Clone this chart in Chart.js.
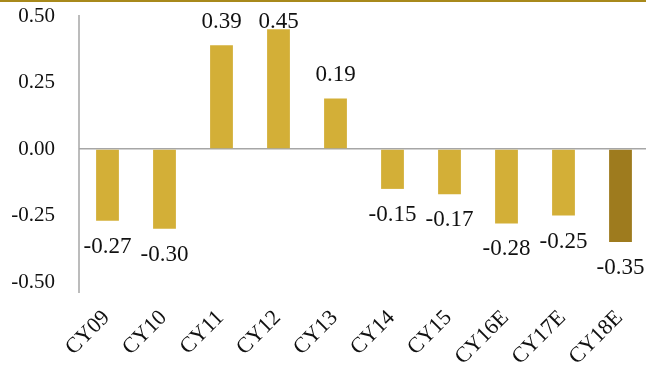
<!DOCTYPE html>
<html>
<head>
<meta charset="utf-8">
<script src="https://cdn.jsdelivr.net/npm/chart.js@4.4.1/dist/chart.umd.min.js"></script>
<style>
  html, body { margin: 0; padding: 0; background: #fff; overflow: hidden; }
  #wrap { position: relative; width: 649px; height: 367px; border-top: 2px solid #A8891B; }
</style>
</head>
<body>
<div id="wrap"><canvas id="c" width="649" height="367"></canvas></div>
<script>
// Calendar years (E = estimate)
const categories = ['CY09', 'CY10', 'CY11', 'CY12', 'CY13', 'CY14', 'CY15', 'CY16E', 'CY17E', 'CY18E'];
const values = [-0.27, -0.30, 0.39, 0.45, 0.19, -0.15, -0.17, -0.28, -0.25, -0.35];
const yTicks = [-0.50, -0.25, 0.00, 0.25, 0.50];

const GOLD = '#D3AF37';
const GOLD_DARK = '#9E7B1E';
const AXIS_GREY = '#A6A6A6';
const SERIF = "'Liberation Serif', 'DejaVu Serif', serif";

const barColors = categories.map((c, i) => i === categories.length - 1 ? GOLD_DARK : GOLD);

// value labels above positive bars and below negative ones
const valueLabels = {
  id: 'valueLabels',
  afterDatasetsDraw(chart) {
    const { ctx } = chart;
    const meta = chart.getDatasetMeta(0);
    const ys = chart.scales.y;
    ctx.save();
    ctx.font = '23px ' + SERIF;
    ctx.fillStyle = '#111';
    ctx.textAlign = 'center';
    ctx.textBaseline = 'alphabetic';
    meta.data.forEach((bar, i) => {
      const v = values[i];
      const yEnd = ys.getPixelForValue(v);
      const y = v >= 0 ? Math.max(yEnd - 17, chart.chartArea.top + 12) : yEnd + 32;
      ctx.fillText(v.toFixed(2), bar.x, y);
    });
    ctx.restore();
  }
};

// vertical value axis line, running a little past the lowest tick
const valueAxisLine = {
  id: 'valueAxisLine',
  afterDraw(chart) {
    const { ctx, chartArea } = chart;
    ctx.save();
    ctx.strokeStyle = AXIS_GREY;
    ctx.lineWidth = 1.5;
    ctx.beginPath();
    ctx.moveTo(chartArea.left, chartArea.top - 1);
    ctx.lineTo(chartArea.left, chartArea.bottom + 11);
    ctx.stroke();
    ctx.restore();
  }
};

new Chart(document.getElementById('c'), {
  type: 'bar',
  data: {
    labels: categories,
    datasets: [{
      data: values,
      backgroundColor: barColors,
      borderWidth: 0,
      barPercentage: 0.4,
      categoryPercentage: 1.0
    }]
  },
  options: {
    responsive: false,
    animation: false,
    layout: { padding: { top: 14, right: 0, left: 0, bottom: 0 } },
    plugins: { legend: { display: false }, tooltip: { enabled: false } },
    scales: {
      x: {
        grid: { display: false },
        border: { display: false },
        ticks: {
          color: '#111',
          font: { family: SERIF, size: 22 },
          minRotation: 45,
          maxRotation: 45,
          autoSkip: false,
          padding: 15,
          labelOffset: -1
        },
        afterFit(scale) {
          scale.height = 87;
          scale.paddingTop = scale.paddingBottom = scale.paddingLeft = scale.paddingRight = 0;
        }
      },
      y: {
        min: -0.5,
        max: 0.5,
        afterBuildTicks(scale) { scale.ticks = yTicks.map(v => ({ value: v })); },
        grid: {
          drawTicks: false,
          lineWidth: 1.5,
          color: ctx => (ctx.tick && ctx.tick.value === 0) ? AXIS_GREY : 'rgba(0,0,0,0)'
        },
        border: { display: false },
        ticks: {
          color: '#111',
          font: { family: SERIF, size: 21 },
          padding: 24,
          callback: v => Number(v).toFixed(2)
        },
        afterFit(scale) {
          scale.width = 79;
          scale.paddingTop = scale.paddingBottom = scale.paddingLeft = scale.paddingRight = 0;
        }
      }
    }
  },
  plugins: [valueLabels, valueAxisLine]
});
</script>
</body>
</html>
